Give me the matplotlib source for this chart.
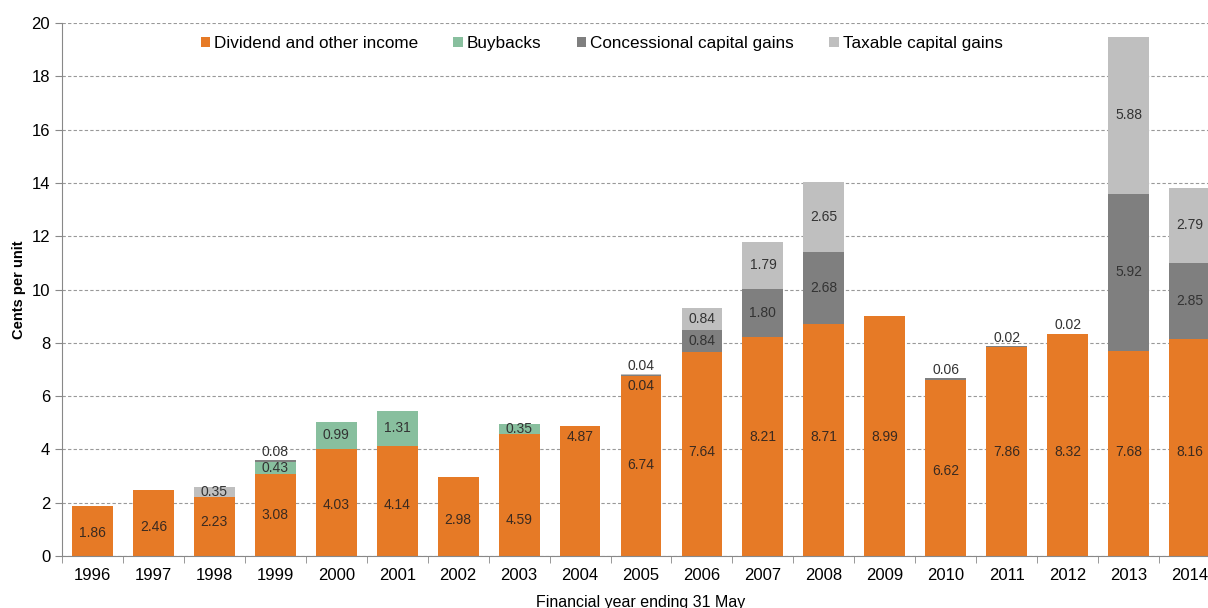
import matplotlib.pyplot as plt
import numpy as np

plt.rcParams['font.family'] = ['Liberation Sans', 'DejaVu Sans']

years = [str(y) for y in range(1996, 2015)]
dividend = [1.86, 2.46, 2.23, 3.08, 4.03, 4.14, 2.98, 4.59, 4.87, 6.74,
            7.64, 8.21, 8.71, 8.99, 6.62, 7.86, 8.32, 7.68, 8.16]
buybacks = [0, 0, 0, 0.43, 0.99, 1.31, 0, 0.35, 0, 0,
            0, 0, 0, 0, 0, 0, 0, 0, 0]
concessional = [0, 0, 0, 0.08, 0, 0, 0, 0, 0, 0.04,
                0.84, 1.80, 2.68, 0, 0.06, 0.02, 0.02, 5.92, 2.85]
taxable = [0, 0, 0.35, 0, 0, 0, 0, 0, 0, 0.04,
           0.84, 1.79, 2.65, 0, 0, 0, 0, 5.88, 2.79]
# heights where the dividend labels sit in the original (hand placed there)
div_label_y = [0.86, 1.09, 1.28, 1.54, 1.91, 1.91, 1.35, 1.35, 4.46, 3.41,
               3.9, 4.46, 4.46, 4.46, 3.2, 3.9, 3.9, 3.9, 3.9]

series = [("Dividend and other income", dividend, "#E67A26"),
          ("Buybacks", buybacks, "#88BF9E"),
          ("Concessional capital gains", concessional, "#7F7F7F"),
          ("Taxable capital gains", taxable, "#BFBFBF")]

fig = plt.figure(figsize=(12.08, 6.08), dpi=100)
ax = fig.add_axes([62/1208, 52/608, 1158/1208, 533/608])

x = np.arange(len(years))
bottom = np.zeros(len(years))
for k, (name, vals, col) in enumerate(series):
    vals = np.array(vals)
    ax.bar(x, vals, 0.67, bottom=bottom, color=col, label=name, zorder=2)
    for i, v in enumerate(vals):
        if v <= 0:
            continue
        top = bottom[i] + v
        if k == 0:
            ax.text(i, div_label_y[i], f"{v:.2f}", ha='center', va='center',
                    fontsize=10, color='#3a2a20', zorder=3)
        elif v >= 0.3:
            ax.text(i, bottom[i] + v / 2, f"{v:.2f}", ha='center', va='center',
                    fontsize=10, color='#333333', zorder=3)
        else:
            # small segment: label above, or below if another small one sits on top
            above = [s[1][i] for s in series[k + 1:]]
            if any(0 < a < 0.3 for a in above):
                ax.text(i, top - 0.12, f"{v:.2f}", ha='center', va='top',
                        fontsize=10, color='#3a2a20', zorder=3)
            else:
                ax.text(i, top + 0.05, f"{v:.2f}", ha='center', va='bottom',
                        fontsize=10, color='#333333', zorder=3)
    bottom += vals

ax.set_ylim(0, 20)
ax.set_xlim(-0.5, len(years) - 0.5)
ax.set_yticks(range(0, 21, 2))
ax.yaxis.grid(True, linestyle=(0, (3, 2)), color='#999999', linewidth=0.8, zorder=0)
ax.set_axisbelow(True)

ax.set_xticks(x)
ax.set_xticklabels(years, fontsize=12)
ax.set_xticks(np.arange(-0.5, len(years), 1), minor=True)
ax.tick_params(axis='x', which='major', length=0, pad=9)
ax.tick_params(axis='x', which='minor', length=5, color='#888888')
ax.tick_params(axis='y', labelsize=12, length=5, color='#888888')

for s in ['top', 'right']:
    ax.spines[s].set_visible(False)
ax.spines['left'].set_color('#888888')
ax.spines['bottom'].set_color('#888888')

ax.set_ylabel("Cents per unit", fontsize=10.5, fontweight='bold', labelpad=4,
              family=['Liberation Sans Narrow', 'Liberation Sans', 'DejaVu Sans'])
ax.set_xlabel("Financial year ending 31 May", fontsize=11.5, labelpad=8)

ax.legend(loc='upper center', bbox_to_anchor=(0.466, 1.005), ncol=4, frameon=False,
          fontsize=12.3, handlelength=0.55, handleheight=0.55, handletextpad=0.25,
          columnspacing=2.05)

fig.savefig("out.png", dpi=100)
